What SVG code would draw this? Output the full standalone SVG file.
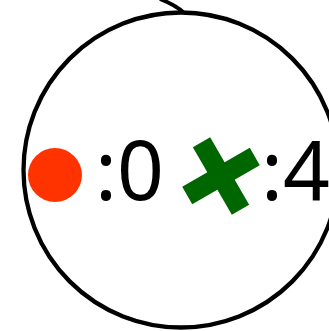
<svg xmlns="http://www.w3.org/2000/svg" width="329" height="331" viewBox="0 0 329 331">
<style>
.lbl{font-family:"Noto Sans","DejaVu Sans",sans-serif;font-size:82px;fill:#000}
</style>
<rect width="329" height="331" fill="#fff"/>
<g id="connectors">
<path d="M160,-1 Q175,5 183,12" fill="none" stroke="#000" stroke-width="4"/>
</g>
<g id="node">
<circle cx="181" cy="170" r="157.5" fill="none" stroke="#000" stroke-width="4.3"/>
<circle cx="55" cy="175" r="27" fill="#ff3300"/>
<text class="lbl" x="95" y="200">:0</text>
<g transform="translate(221,176) rotate(-30)" fill="#006600">
<rect x="-39" y="-10" width="78" height="20"/>
<rect x="-10" y="-39" width="20" height="78"/>
</g>
<text class="lbl" x="261" y="200">:4</text>
</g>
</svg>
